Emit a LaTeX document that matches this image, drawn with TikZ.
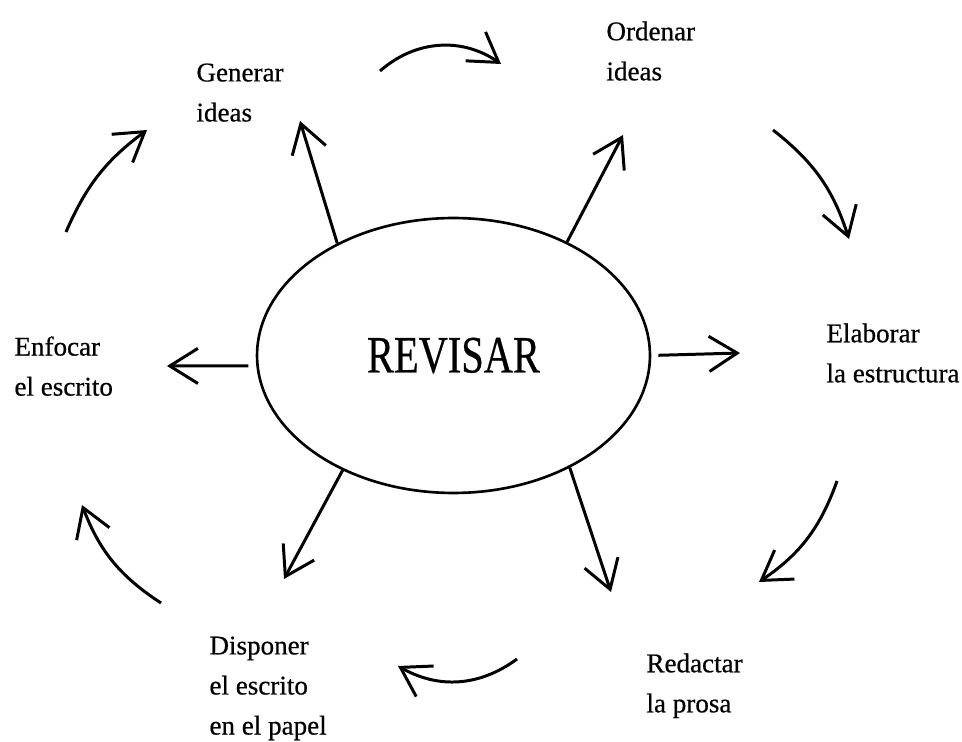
\documentclass[tikz,border=0pt]{standalone}
\usepackage{graphicx}
\usepackage{fontspec}
\setmainfont{Liberation Serif}[FakeBold=0.6]
\usetikzlibrary{arrows.meta,shapes.geometric}

\tikzset{
  etiqueta/.style={anchor=north west, align=left, inner sep=0pt,
    font=\fontsize{15.4pt}{22.8pt}\selectfont},
}

\begin{document}
\begin{tikzpicture}[>={Straight Barb[length=16pt,width=20pt]}, x=0.02cm, y=-0.02cm, line width=1.7pt]
  \useasboundingbox (0, 0) rectangle (962, 742);

  \node[draw, ellipse, line width=1.5pt, minimum width=7.86cm, minimum height=5.5cm, inner sep=0pt] (revisar) at (453.5, 355.5)
    {\fontsize{23pt}{23pt}\selectfont\scalebox{1}[1.3]{REVISAR}};

  \node[etiqueta] (generar) at (195, 62) {Generar\\ideas};
  \node[etiqueta] (ordenar) at (605, 20) {Ordenar\\ideas};
  \node[etiqueta] (elaborar) at (825, 322) {Elaborar\\la estructura};
  \node[etiqueta] (redactar) at (645, 652) {Redactar\\la prosa};
  \node[etiqueta] (disponer) at (208, 635) {Disponer\\el escrito\\en el papel};
  \node[etiqueta] (enfocar) at (13, 335) {Enfocar\\el escrito};

  % flechas desde el centro
  \coordinate (pGenerar) at (300, 121);
  \coordinate (pOrdenar) at (623, 135);
  \coordinate (pElaborar) at (740, 353);
  \coordinate (pRedactar) at (611, 592);
  \coordinate (pDisponer) at (284, 579);
  \coordinate (pEnfocar) at (167, 366);

  \draw[->] (revisar.136) -- (pGenerar);
  \draw[->] (revisar.45) -- (pOrdenar);
  \draw[->, shorten <=0.14cm] (revisar.0) -- (pElaborar);
  \draw[->] (revisar.-44) -- (pRedactar);
  \draw[->] (revisar.-134) -- (pDisponer);
  \draw[->, shorten <=0.16cm] (revisar.183) -- (pEnfocar);

  % ciclo exterior
  \coordinate (c1a) at (380, 71);   \coordinate (c1b) at (501, 64);
  \coordinate (c2a) at (773, 130);  \coordinate (c2b) at (849, 239);
  \coordinate (c3a) at (837, 481);  \coordinate (c3b) at (759, 582);
  \coordinate (c4a) at (517, 659);  \coordinate (c4b) at (398, 666);
  \coordinate (c5a) at (161, 603);  \coordinate (c5b) at (82, 505);
  \coordinate (c6a) at (66, 232);   \coordinate (c6b) at (147, 130);

  \draw[->] (c1a) to[bend left=38] (c1b);
  \draw[->] (c2a) to[bend left=17] (c2b);
  \draw[->] (c3a) to[bend left=18] (c3b);
  \draw[->] (c4a) to[bend left=33] (c4b);
  \draw[->] (c5a) to[bend left=18] (c5b);
  \draw[->] (c6a) to[bend left=15] (c6b);
\end{tikzpicture}
\end{document}
